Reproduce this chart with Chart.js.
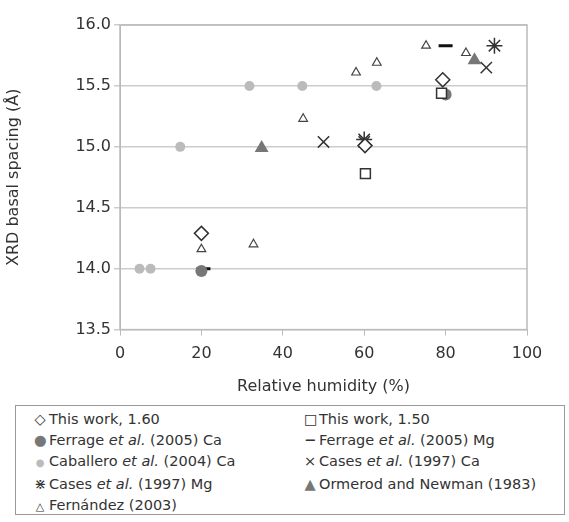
<!DOCTYPE html><html><head><meta charset="utf-8">
<script src="https://cdn.jsdelivr.net/npm/chart.js@4"></script>
<style>
body{margin:0;background:#fff;font-family:"DejaVu Sans",sans-serif;}
#wrap{position:relative;width:569px;height:400px;}
#leg{position:absolute;left:15px;top:405px;width:550px;height:110px;border:1px solid #999;box-sizing:border-box;font-size:14.5px;color:#333;padding:3px 0 0 18px;display:grid;grid-template-columns:270px 260px;row-gap:1px;line-height:20px}
.s{display:inline-block;width:12px;text-align:center;margin-right:3px}
</style></head><body>
<div id="wrap"><canvas id="c" width="569" height="400"></canvas></div>
<div id="leg">
<div><span class="s">◇</span>This work, 1.60</div><div><span class="s">□</span>This work, 1.50</div>
<div><span class="s" style="color:#777">●</span>Ferrage <i>et al.</i> (2005) Ca</div><div><span class="s"><b>−</b></span>Ferrage <i>et al.</i> (2005) Mg</div>
<div><span class="s" style="color:#bbb;font-size:10px">●</span>Caballero <i>et al.</i> (2004) Ca</div><div><span class="s">×</span>Cases <i>et al.</i> (1997) Ca</div>
<div><span class="s">⋇</span>Cases <i>et al.</i> (1997) Mg</div><div><span class="s" style="color:#777">▲</span>Ormerod and Newman (1983)</div>
<div><span class="s" style="font-size:11px">△</span>Fernández (2003)</div>
</div>
<script>
const diamondX=[20,60.2,79.3], diamondY=[14.29,15.01,15.55];
const squareX=[60.3,79], squareY=[14.78,15.44];
const ferCaX=[20,80], ferCaY=[13.98,15.43];
const ferMgX=[20.5,80], ferMgY=[14.0,15.83];
const cabX=[4.8,7.5,14.8,31.8,44.8,63], cabY=[14.0,14.0,15.0,15.5,15.5,15.5];
const casCaX=[50,60,90], casCaY=[15.04,15.04,15.65];
const casMgX=[60,92], casMgY=[15.06,15.83];
const ormX=[34.8,87.1], ormY=[14.99,15.71];
const ferX=[20,32.8,45,58,63.1,75.2,85], ferY=[14.16,14.2,15.23,15.61,15.69,15.83,15.77];
const xTicks=[0,20,40,60,80,100], yTicks=[13.5,14.0,14.5,15.0,15.5,16.0];
const pts=(xs,ys)=>xs.map((x,i)=>({x,y:ys[i]}));
const ds=(xs,ys,style,r,bg,bc,bw,rot)=>({data:pts(xs,ys),pointStyle:style,pointRadius:r,backgroundColor:bg,borderColor:bc,pointBorderWidth:bw,pointRotation:rot||0,showLine:false});
const box={id:'box',afterDatasetsDraw(c){const a=c.chartArea,x=c.ctx;x.save();x.strokeStyle='#bbb';x.lineWidth=1.5;x.strokeRect(a.left,a.top,a.right-a.left,a.bottom-a.top);x.restore();}};
new Chart(document.getElementById('c'),{type:'scatter',
data:{datasets:[
ds(cabX,cabY,'circle',5,'#bbb','#bbb',0),
ds(ferX,ferY,'triangle',5,'#fff','#444',1.2),
ds(diamondX,diamondY,'rectRot',7,'#fff','#333',1.5),
ds(squareX,squareY,'rect',7,'#fff','#333',1.5),
ds(ferCaX,ferCaY,'circle',6,'#777','#777',0),
ds(ferMgX,ferMgY,'line',7,'#111','#111',3),
ds(casCaX,casCaY,'crossRot',8,'#333','#333',1.5),
ds(casMgX,casMgY,'star',8,'#333','#333',1.5),
ds(ormX,ormY,'triangle',8,'#777','#777',0)
]},
plugins:[box],
options:{responsive:false,animation:false,layout:{padding:{top:25,right:42,left:0,bottom:0}},
plugins:{legend:{display:false},tooltip:{enabled:false}},
scales:{
x:{min:0,max:100,afterBuildTicks:s=>{s.ticks=xTicks.map(v=>({value:v}))},grid:{drawOnChartArea:false,tickLength:6,color:'#bbb'},border:{color:'#bbb'},
ticks:{padding:9,font:{size:16,family:'DejaVu Sans'},color:'#333'},title:{display:true,text:'Relative humidity (%)',font:{size:16,family:'DejaVu Sans'},color:'#333'}},
y:{min:13.5,max:16,afterBuildTicks:s=>{s.ticks=yTicks.map(v=>({value:v}))},afterFit:s=>{s.width=120},grid:{color:'#ccc',lineWidth:1.5,tickLength:6},border:{color:'#bbb'},
ticks:{font:{size:16,family:'DejaVu Sans'},color:'#333',callback:v=>v.toFixed(1)},title:{display:true,text:'XRD basal spacing (Å)',font:{size:16,family:'DejaVu Sans'},color:'#333'}}
}}});
</script></body></html>
